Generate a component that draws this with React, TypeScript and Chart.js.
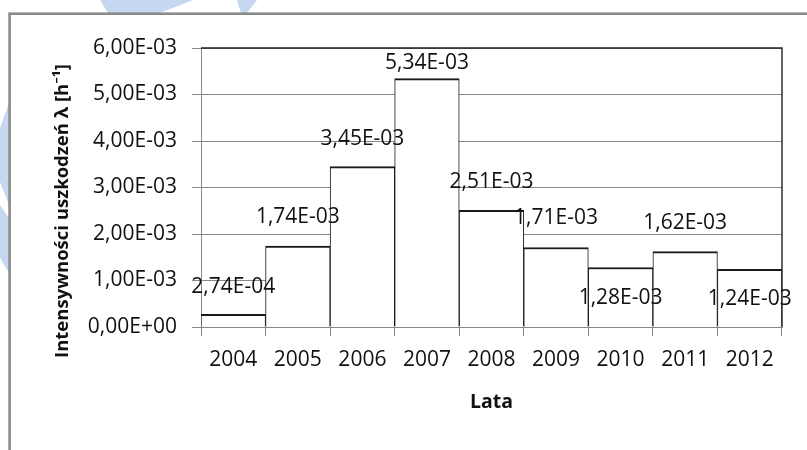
import React, { useEffect, useRef } from 'react';
import { Chart, registerables } from 'chart.js';

Chart.register(...registerables);

// ---- data ----
const years = ['2004', '2005', '2006', '2007', '2008', '2009', '2010', '2011', '2012'];
const intensity = [0.000274, 0.00174, 0.00345, 0.00534, 0.00251, 0.00171, 0.00128, 0.00162, 0.00124];
const yMin = 0;
const yMax = 0.006;
const yStep = 0.001;
const yTitle = 'Intensywności uszkodzeń λ [h⁻¹]';
const xTitle = 'Lata';

// ---- label placement (style, px relative to bar top) ----
const labelOffsets = [-27, -29, -28, -16, -28, -29, 31, -29, 30];

const FAMILY = "'Open Sans', 'Noto Sans', sans-serif";
const TEXT = '#111111';
const GRID = '#878787';

function sci(v: number): string {
  if (Math.abs(v) < 1e-12) return '0,00E+00';
  let exp = Math.floor(Math.log10(Math.abs(v)) + 1e-9);
  let ms = (v / Math.pow(10, exp)).toFixed(2);
  if (parseFloat(ms) >= 10) {
    exp += 1;
    ms = (v / Math.pow(10, exp)).toFixed(2);
  }
  const sign = exp < 0 ? '-' : '+';
  return ms.replace('.', ',') + 'E' + sign + String(Math.abs(exp)).padStart(2, '0');
}

const decorPlugin = {
  id: 'decor',
  beforeDraw(chart: any) {
    const ctx = chart.ctx;
    ctx.save();
    // faint watermark fragments outside the frame
    ctx.fillStyle = '#c6d8f0';
    const polys = [
      [[100, 0], [193, 0], [160, 13], [108, 13]],
      [[237, 0], [257, 0], [247, 13], [241, 13]],
      [[0, 128], [9, 103], [9, 205], [0, 182]],
      [[0, 205], [9, 218], [9, 273], [0, 258]],
    ];
    for (const p of polys) {
      ctx.beginPath();
      ctx.moveTo(p[0][0], p[0][1]);
      for (let i = 1; i < p.length; i++) ctx.lineTo(p[i][0], p[i][1]);
      ctx.closePath();
      ctx.fill();
    }
    // outer frame
    ctx.fillStyle = '#ffffff';
    ctx.fillRect(10, 14, 900, 900);
    ctx.strokeStyle = '#8a8a8a';
    ctx.lineWidth = 2.6;
    ctx.strokeRect(9.6, 13.7, 1000, 1000);
    ctx.restore();
  },
  afterDatasetsDraw(chart: any) {
    const ctx = chart.ctx;
    const { top, right, bottom, left } = chart.chartArea;
    ctx.save();
    // top & right plot border
    ctx.strokeStyle = '#222222';
    ctx.lineWidth = 1.4;
    ctx.beginPath();
    ctx.moveTo(left, top);
    ctx.lineTo(right, top);
    ctx.lineTo(right, bottom);
    ctx.stroke();
    // data labels
    const meta = chart.getDatasetMeta(0);
    ctx.fillStyle = TEXT;
    ctx.font = `21px ${FAMILY}`;
    ctx.textAlign = 'center';
    ctx.textBaseline = 'middle';
    meta.data.forEach((el: any, i: number) => {
      ctx.fillText(sci(intensity[i]), el.x, el.y + labelOffsets[i]);
    });
    // y axis title
    ctx.font = `bold 18.5px ${FAMILY}`;
    ctx.translate(63, 211);
    ctx.rotate(-Math.PI / 2);
    ctx.fillText(yTitle, 0, 0);
    ctx.restore();
  },
};

export default function App() {
  const ref = useRef<HTMLCanvasElement | null>(null);

  useEffect(() => {
    if (!ref.current) return;
    const chart = new Chart(ref.current, {
      type: 'bar',
      data: {
        labels: years,
        datasets: [
          {
            data: intensity,
            backgroundColor: '#ffffff',
            borderColor: '#1a1a1a',
            borderWidth: { top: 2, left: 1, right: 1, bottom: 0 },
            borderSkipped: 'start',
            categoryPercentage: 1,
            barPercentage: 1,
          },
        ],
      },
      options: {
        responsive: false,
        animation: false,
        layout: { padding: { left: 0, top: 48, right: 25, bottom: 0 } },
        plugins: {
          legend: { display: false },
          tooltip: { enabled: false },
        },
        scales: {
          x: {
            grid: {
              display: true,
              drawOnChartArea: false,
              drawTicks: true,
              tickLength: 9,
              color: GRID,
              offset: true,
            },
            border: { color: GRID, width: 1 },
            ticks: {
              font: { family: FAMILY, size: 21 },
              color: TEXT,
              padding: 11,
              maxRotation: 0,
              autoSkip: false,
            },
            title: {
              display: true,
              text: xTitle,
              font: { family: FAMILY, size: 19.5, weight: 'bold' },
              color: TEXT,
              padding: { top: 0, bottom: 36 },
            },
            afterFit: (s: any) => {
              s.height = 123;
            },
          },
          y: {
            min: yMin,
            max: yMax,
            ticks: {
              stepSize: yStep,
              callback: (v: any) => sci(Number(v)),
              font: { family: FAMILY, size: 21 },
              color: TEXT,
              padding: 15,
            },
            grid: { color: GRID, tickLength: 9 },
            border: { color: GRID, width: 1 },
            afterFit: (s: any) => {
              s.width = 201;
            },
          },
        },
      },
      plugins: [decorPlugin],
    } as any);
    return () => chart.destroy();
  }, []);

  return (
    <div style={{ position: 'fixed', left: 0, top: 0, width: 807, height: 450, background: '#ffffff' }}>
      <canvas ref={ref} width={807} height={450} style={{ display: 'block' }} />
    </div>
  );
}
